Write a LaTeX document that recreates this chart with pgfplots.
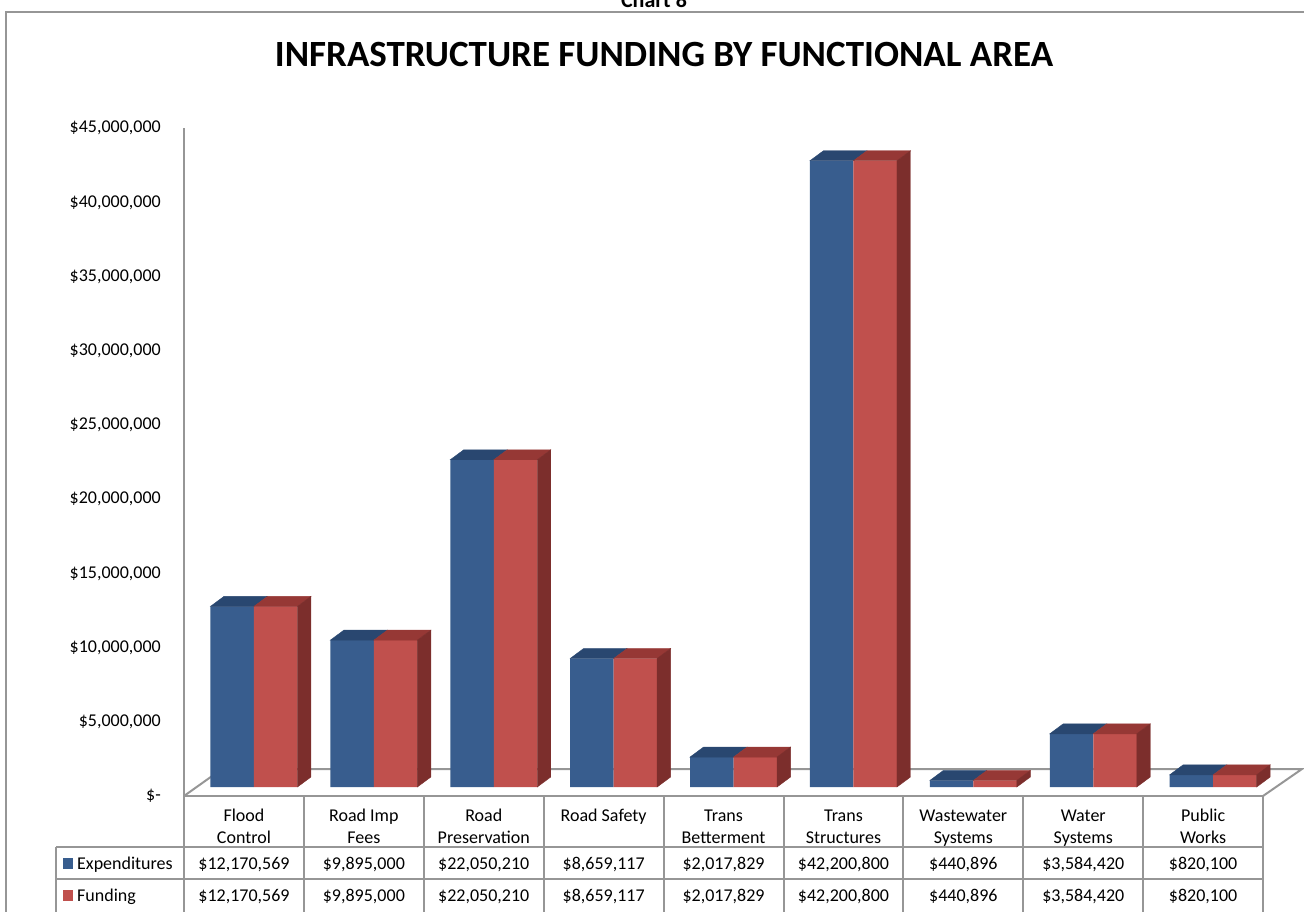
\documentclass[border=0pt]{standalone}
\usepackage{pgfplots}
\pgfplotsset{compat=1.18}
\usepackage{pgfplotstable}
\usepackage{fontspec}
\setmainfont{Carlito}
\definecolor{blueF}{RGB}{56,93,142}
\definecolor{blueT}{RGB}{41,71,112}
\definecolor{redF}{RGB}{192,80,77}
\definecolor{redT}{RGB}{150,56,53}
\definecolor{redS}{RGB}{124,46,44}
\definecolor{gridc}{RGB}{150,150,150}
\pgfdeclareplotmark{nothing}{}
% values in millions of dollars
\pgfplotstableread{
x v
0.5 12.170569
1.5 9.895000
2.5 22.050210
3.5 8.659117
4.5 2.017829
5.5 42.200800
6.5 0.440896
7.5 3.584420
8.5 0.820100
}\expdata
\pgfplotstableread{
x v
0.5 12.170569
1.5 9.895000
2.5 22.050210
3.5 8.659117
4.5 2.017829
5.5 42.200800
6.5 0.440896
7.5 3.584420
8.5 0.820100
}\funddata
\begin{document}
\begin{tikzpicture}[x=1pt,y=1pt]
\useasboundingbox (0,0) rectangle (1304,911);
% outer frame
\draw[gridc, line width=1.5pt] (6,-10) -- (6,899) -- (1320,899);
\node[font=\bfseries\fontsize{22}{24}\selectfont, anchor=base] at (654,903) {Chart 8};
\node[font=\bfseries\fontsize{37}{42}\selectfont] at (664,856) {INFRASTRUCTURE FUNDING BY FUNCTIONAL AREA};
% floor
\draw[gridc, line width=2pt] (184,115) -- (222,142) -- (1302,142) -- (1263,115);
\begin{axis}[at={(184pt,115pt)}, anchor=south west, x=119.9pt, y=14.84pt,
  xmin=0, xmax=9, ymin=0, ymax=45,
  axis x line=none, axis y line*=left,
  axis line style={gridc, line width=2.5pt},
  xtick=\empty, ytick={0,5,10,15,20,25,30,35,40,45},
  yticklabels={{\$-\hspace{8pt}},{\$5,000,000},{\$10,000,000},{\$15,000,000},{\$20,000,000},{\$25,000,000},{\$30,000,000},{\$35,000,000},{\$40,000,000},{\$45,000,000}},
  major tick length=0pt,
  yticklabel style={anchor=east, inner sep=0pt, xshift=-23pt, font=\fontsize{18}{20}\selectfont},
  clip=false]
\end{axis}
\begin{axis}[at={(194pt,124pt)}, anchor=south west, x=119.9pt, y=14.84pt,
  xmin=0, xmax=9, ymin=0, ymax=45, hide axis, clip=false]
\addplot[ybar, bar width=43.5pt, bar shift=-21.75pt, fill=blueF, draw=none] table[x=x,y=v]{\expdata};
\addplot[only marks, mark=nothing, scatter,
  scatter/@pre marker code/.code={\fill[blueT] (-43.5pt,0pt) -- (0pt,0pt) -- (13.5pt,10pt) -- (-30pt,10pt) -- cycle;},
  scatter/@post marker code/.code={}] table[x=x,y=v]{\expdata};
\addplot[ybar, bar width=43.5pt, bar shift=21.75pt, fill=redF, draw=none] table[x=x,y=v]{\funddata};
\addplot[only marks, mark=nothing, scatter,
  visualization depends on={\thisrow{v} \as \val},
  scatter/@pre marker code/.code={%
    \pgfmathsetmacro\hb{-\val*14.84}%
    \pgfmathsetmacro\ht{10-\val*14.84}%
    \fill[redT] (0pt,0pt) -- (43.5pt,0pt) -- (57pt,10pt) -- (13.5pt,10pt) -- cycle;
    \fill[redS] (43.5pt,0pt) -- (57pt,10pt) -- (57pt,\ht pt) -- (43.5pt,\hb pt) -- cycle;},
  scatter/@post marker code/.code={}] table[x=x,y=v]{\funddata};
\end{axis}
% data table
\begin{scope}[gridc, line width=2pt]
\foreach \k in {0,...,9} \draw ({184+119.9*\k},115) -- ({184+119.9*\k},-5);
\draw (56,64) -- (1263,64);
\draw (56,32) -- (1263,32);
\draw (56,64) -- (56,-5);
\draw (184,115) -- (1263,115);
\end{scope}
\begin{scope}[font=\fontsize{18}{20}\selectfont]
\foreach \i/\a/\b in {0/Flood/Control, 1/Road Imp/Fees, 2/Road/Preservation, 3/Road Safety/, 4/Trans/Betterment, 5/Trans/Structures, 6/Wastewater/Systems, 7/Water/Systems, 8/Public/Works}{
  \node[anchor=base, inner sep=0pt] at ({184+119.9*(\i+0.5)},90) {\a};
  \node[anchor=base, inner sep=0pt] at ({184+119.9*(\i+0.5)},68) {\b};
}
\foreach \i/\s in {0/{\$12,170,569}, 1/{\$9,895,000}, 2/{\$22,050,210}, 3/{\$8,659,117}, 4/{\$2,017,829}, 5/{\$42,200,800}, 6/{\$440,896}, 7/{\$3,584,420}, 8/{\$820,100}}{
  \node[anchor=base, inner sep=0pt] at ({184+119.9*(\i+0.5)},42) {\s};
  \node[anchor=base, inner sep=0pt] at ({184+119.9*(\i+0.5)},10) {\s};
}
\fill[blueF] (63,42) rectangle (73,53);
\fill[redF] (63,10) rectangle (73,21);
\node[anchor=base west, inner sep=0pt] at (77,42) {Expenditures};
\node[anchor=base west, inner sep=0pt] at (77,10) {Funding};
\end{scope}
\end{tikzpicture}
\end{document}
